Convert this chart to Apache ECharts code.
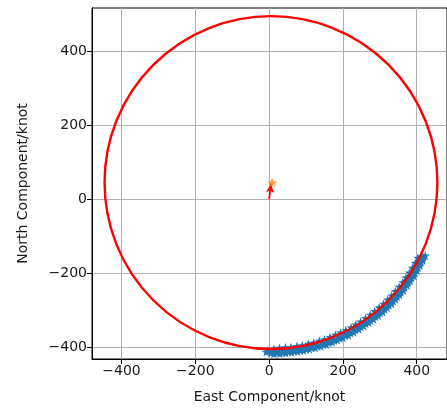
<!DOCTYPE html>
<html>
<head>
<meta charset="utf-8">
<script src="https://cdn.jsdelivr.net/npm/echarts@6/dist/echarts.min.js"></script>
<style>
  html, body { margin: 0; padding: 0; background: #fff; }
  #chart { width: 447px; height: 410px; }
</style>
</head>
<body>
<div id="chart"></div>
<script>
// Measured wind-track samples (east, north) in knots
const trackPoints = [
  [-3, -408], [5, -415], [28, -401], [21, -415], [44, -400], [37, -414],
  [59, -399], [53, -412], [75, -396], [69, -410], [90, -394], [85, -408],
  [106, -390], [101, -405], [121, -387], [116, -401], [136, -382], [132, -397],
  [150, -378], [147, -392], [165, -372], [162, -387], [180, -366], [177, -381],
  [194, -360], [192, -375], [208, -353], [207, -368], [222, -346], [221, -361],
  [235, -338], [235, -353], [248, -330], [249, -345], [261, -321], [262, -336],
  [274, -312], [275, -327], [286, -302], [288, -317], [298, -292], [301, -307],
  [310, -282], [313, -297], [321, -271], [325, -286], [332, -260], [336, -275],
  [342, -248], [347, -263], [352, -236], [357, -251], [362, -224], [367, -238],
  [371, -211], [377, -225], [380, -198], [386, -212], [388, -185], [395, -199],
  [396, -172], [403, -185], [403, -158], [411, -171], [418, -157], [13, -404],
  [60, -404], [110, -396], [170, -377], [230, -347], [283, -311], [330, -268],
  [370, -220], [400, -175], [-8, -412], [416, -162],
  [5, -410], [21, -410], [37, -409], [53, -407], [68, -405], [84, -403],
  [100, -400], [115, -396], [130, -392], [146, -388], [161, -383], [175, -377],
  [190, -371], [204, -364], [219, -357], [232, -349], [246, -341], [259, -332],
  [272, -323], [285, -313], [297, -303], [309, -293], [321, -282], [332, -271],
  [343, -259], [353, -247], [363, -235], [373, -222], [382, -209], [391, -196],
  [399, -182], [407, -168], [414, -154],
  [13, -417], [29, -416], [45, -415], [61, -413], [77, -411], [93, -408],
  [109, -405], [125, -401], [140, -397], [155, -392], [171, -386], [185, -380],
  [200, -374], [215, -367], [229, -359], [243, -351], [256, -342], [270, -333],
  [283, -324], [296, -314], [308, -304], [320, -293], [332, -282], [343, -270],
  [354, -258], [364, -246], [374, -233], [383, -220], [392, -207], [401, -193],
  [409, -179], [416, -165], [423, -152]
];

// Fitted circle: centre (east, north) and radius
const fitCenter = [5, 45];
const fitRadius = 450;

// Mean drift vector from the origin and its end marker
const driftStart = [0, 0];
const driftEnd = [5, 42];
const centerMark = [[8, 45]];

// Axis extents and tick values
const xRange = [-480, 482];
const yRange = [-431, 516];
const xTicks = [-400, -200, 0, 200, 400];
const yTicks = [-400, -200, 0, 200, 400];

const starPath = 'path://M0,-10 L2.35,-3.24 L9.51,-3.09 L3.8,1.23 L5.88,8.09 L0,4 L-5.88,8.09 L-3.8,1.23 L-9.51,-3.09 L-2.35,-3.24 Z';
const fontFamily = 'DejaVu Sans';
const textColor = '#1a1a1a';

const chart = echarts.init(document.getElementById('chart'), null, { renderer: 'canvas' });

function axisCommon(range, ticks, name) {
  return {
    type: 'value',
    min: range[0],
    max: range[1],
    name: name,
    nameLocation: 'middle',
    nameTextStyle: { fontFamily: fontFamily, fontSize: 14, color: textColor },
    axisLine: { show: true, onZero: false, lineStyle: { color: '#000', width: 1 } },
    axisTick: { show: true, inside: false, length: 5, customValues: ticks, lineStyle: { color: '#000', width: 1 } },
    axisLabel: { show: true, customValues: ticks, margin: 5, fontFamily: fontFamily, fontSize: 14, color: textColor,
      formatter: v => (v < 0 ? '\u2212' + Math.abs(v) : String(v)) },
    splitLine: { show: true, lineStyle: { color: '#b0b0b0', width: 1 } },
    minorTick: { show: false }
  };
}

const xAxis = axisCommon(xRange, xTicks, 'East Component/knot');
xAxis.nameGap = 31;
const yAxis = axisCommon(yRange, yTicks, 'North Component/knot');
yAxis.nameGap = 62;

chart.setOption({
  animation: false,
  backgroundColor: '#fff',
  grid: {
    left: 92, top: 8, right: -2, bottom: 51,
    show: true, borderColor: '#000', borderWidth: 1, backgroundColor: 'transparent'
  },
  xAxis: xAxis,
  yAxis: yAxis,
  series: [
    {
      name: 'track',
      type: 'scatter',
      data: trackPoints,
      symbol: starPath,
      symbolSize: 9,
      itemStyle: { color: '#1f77b4', opacity: 1 },
      z: 2,
      silent: true
    },
    {
      name: 'fit',
      type: 'custom',
      data: [[fitCenter[0], fitCenter[1], fitRadius]],
      encode: { x: 0, y: 1 },
      renderItem: function (params, api) {
        const c = api.coord([api.value(0), api.value(1)]);
        const s = api.size([api.value(2), api.value(2)]);
        return {
          type: 'circle',
          shape: { cx: c[0], cy: c[1], r: (s[0] + s[1]) / 2 },
          style: { fill: 'none', stroke: '#ff0000', lineWidth: 2.4 }
        };
      },
      z: 3,
      silent: true
    },
    {
      name: 'centre',
      type: 'scatter',
      data: centerMark,
      symbol: starPath,
      symbolSize: 10,
      itemStyle: { color: '#ff7f0e' },
      z: 5,
      silent: true,
      markLine: {
        silent: true,
        symbol: ['none', 'arrow'],
        symbolSize: [6, 9],
        label: { show: false },
        lineStyle: { color: '#ff0000', width: 1.8, type: 'solid' },
        data: [[{ coord: driftStart }, { coord: driftEnd }]],
        z: 4
      }
    }
  ]
});
</script>
</body>
</html>
